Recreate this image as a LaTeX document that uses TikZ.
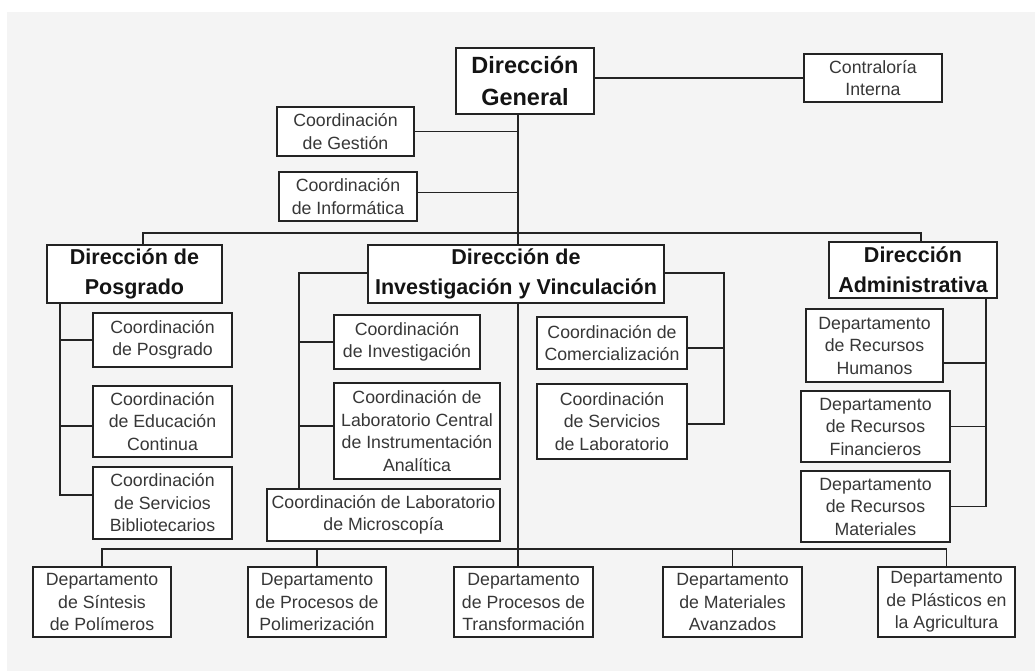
\documentclass[tikz,border=0pt]{standalone}
\usepackage{fontspec}
\setmainfont{Liberation Sans}
\usepackage{tikz}
\definecolor{boxline}{RGB}{35, 35, 35}
\definecolor{textgray}{RGB}{55, 55, 55}
\definecolor{pagegray}{RGB}{244, 244, 244}

\begin{document}
\begin{tikzpicture}[
    x=0.025cm, y=-0.025cm,
    unit/.style={draw=boxline, line width=1.35pt, fill=white, inner sep=1pt, align=center, text=textgray, font=\fontsize{12.6}{16}\selectfont},
    head/.style={unit, text=black!92, font=\bfseries\fontsize{15.3}{21.3}\selectfont},
    link/.style={draw=boxline, line width=1.3pt}
]
    % Background
    \fill[white] (0,0) rectangle (1035,671);
    \fill[pagegray] (7,12) rectangle (1035,671);
    \useasboundingbox (0,0) rectangle (1035,671);

    % Nodes - general direction
    \node[head, font=\bfseries\fontsize{16.7}{22.8}\selectfont, minimum width=34.5mm, minimum height=16.5mm] (dg) at (525,81) {Dirección\\General};
    \node[unit, minimum width=34.5mm, minimum height=12mm] (contra) at (873,78) {Contraloría\\Interna};
    \node[unit, minimum width=34.25mm, minimum height=12.25mm] (gestion) at (345.5,131.5) {Coordinación\\de Gestión};
    \node[unit, minimum width=34.5mm, minimum height=12.25mm] (informatica) at (348,196.5) {Coordinación\\de Informática};

    % Nodes - directions
    \node[head, minimum width=43.75mm, minimum height=14.5mm] (posgrado) at (134.5,274) {Dirección de\\Posgrado};
    \node[head, minimum width=74mm, minimum height=14.5mm] (investig) at (516,274) {Dirección de\\Investigación y Vinculación};
    \node[head, minimum width=42mm, minimum height=14mm] (admin) at (913,270) {Dirección\\Administrativa};

    % Nodes - posgrado
    \node[unit, minimum width=34.75mm, minimum height=13.5mm] (cposg) at (162.5,340) {Coordinación\\de Posgrado};
    \node[unit, minimum width=34.75mm, minimum height=17.75mm] (ceduc) at (162.5,421.5) {Coordinación\\de Educación\\Continua};
    \node[unit, minimum width=34.75mm, minimum height=18mm] (cbiblio) at (162.5,503) {Coordinación\\de Servicios\\Bibliotecarios};

    % Nodes - investigacion y vinculacion
    \node[unit, minimum width=36.5mm, minimum height=13.5mm] (cinv) at (407,342) {Coordinación\\de Investigación};
    \node[unit, minimum width=41.5mm, minimum height=24mm] (clab) at (417,431) {Coordinación de\\Laboratorio Central\\de Instrumentación\\Analítica};
    \node[unit, minimum width=58.25mm, minimum height=13mm] (cmicro) at (383.5,515) {Coordinación de Laboratorio\\de Microscopía};
    \node[unit, minimum width=37.5mm, minimum height=13mm] (ccomer) at (612,343) {Coordinación de\\Comercialización};
    \node[unit, minimum width=37.5mm, minimum height=18.75mm] (cserv) at (612,421.5) {Coordinación\\de Servicios\\de Laboratorio};

    % Nodes - administrativa
    \node[unit, minimum width=34.25mm, minimum height=18.25mm] (humanos) at (874.5,345.5) {Departamento\\de Recursos\\Humanos};
    \node[unit, minimum width=37.25mm, minimum height=17.75mm] (financ) at (875.5,426.5) {Departamento\\de Recursos\\Financieros};
    \node[unit, minimum width=37.25mm, minimum height=17.75mm] (mater) at (875.5,506.5) {Departamento\\de Recursos\\Materiales};

    % Nodes - bottom row
    \node[unit, minimum width=34.5mm, minimum height=17.5mm] (sintesis) at (102,602) {Departamento\\de Síntesis\\de Polímeros};
    \node[unit, minimum width=34.5mm, minimum height=17.5mm] (polimer) at (317,602) {Departamento\\de Procesos de\\Polimerización};
    \node[unit, minimum width=34.75mm, minimum height=17.5mm] (transf) at (523.5,602) {Departamento\\de Procesos de\\Transformación};
    \node[unit, minimum width=34.75mm, minimum height=17.5mm] (avanz) at (732.5,602) {Departamento\\de Materiales\\Avanzados};
    \node[unit, minimum width=34.25mm, minimum height=17.5mm] (agri) at (946.5,602) {Departamento\\de Plásticos en\\la Agricultura};

    % Bus points
    \coordinate (trunk) at (518,233);
    \coordinate (lowbus) at (518,549);
    \coordinate (lbar) at (299,273);
    \coordinate (rbar) at (724,273);

    % Trunk and staff units
    \draw[link] (dg.south -| trunk) -- (investig.north -| trunk);
    \draw[link] (investig.south -| trunk) -- (transf.north -| trunk);
    \draw[link] (dg.east |- contra.west) -- (contra.west);
    \draw[link] (gestion.east) -- (gestion.east -| trunk);
    \draw[link] ([yshift=1mm]informatica.east) -- ([yshift=1mm]informatica.east -| trunk);

    % Top bus to directions
    \draw[link] ([xshift=2.1mm]posgrado.north) |- ([xshift=2mm]admin.north |- trunk) -- ([xshift=2mm]admin.north);

    % Posgrado branch
    \draw[link] ([xshift=3.5mm]posgrado.south west) |- (cposg.west);
    \draw[link] ([xshift=3.5mm]posgrado.south west) |- ([yshift=-1.1mm]ceduc.west);
    \draw[link] ([xshift=3.5mm]posgrado.south west) |- ([yshift=2mm]cbiblio.west);

    % Investigacion branch
    \draw[link] (investig.west |- lbar) -| (cmicro.north -| lbar);
    \draw[link] (cinv.west) -- (cinv.west -| lbar);
    \draw[link] ([yshift=1.25mm]clab.west) -- ([yshift=1.25mm]clab.west -| lbar);
    \draw[link] (investig.east |- rbar) -| ([yshift=-0.6mm]cserv.east -| rbar) -- ([yshift=-0.6mm]cserv.east);
    \draw[link] ([yshift=-1.25mm]ccomer.east) -- ([yshift=-1.25mm]ccomer.east -| rbar);

    % Administrativa branch
    \draw[link] ([xshift=-3mm]admin.south east) |- ([yshift=-4.4mm]humanos.east);
    \draw[link] ([xshift=-3mm]admin.south east) |- (financ.east);
    \draw[link] ([xshift=-3mm]admin.south east) |- (mater.east);

    % Bottom bus to departments
    \draw[link] (sintesis.north) |- (lowbus) -| (agri.north);
    \draw[link] (polimer.north) -- (polimer.north |- lowbus);
    \draw[link] (avanz.north) -- (avanz.north |- lowbus);
\end{tikzpicture}
\end{document}
